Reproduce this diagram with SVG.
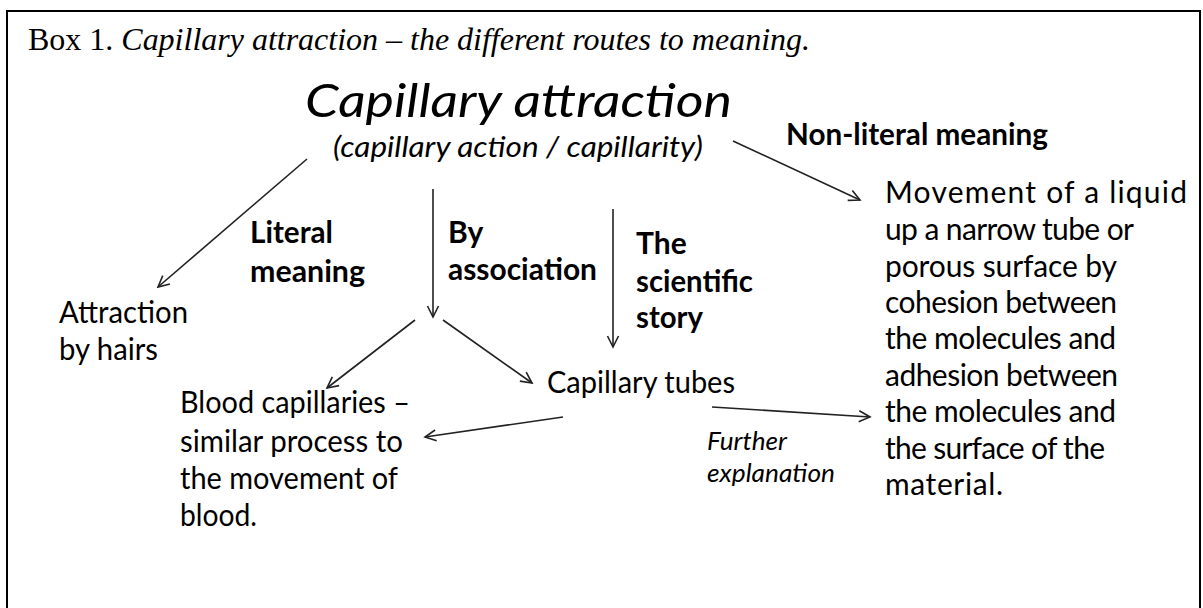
<svg xmlns="http://www.w3.org/2000/svg" width="1203" height="608" viewBox="0 0 1203 608">
  <style>
    .cap { font-family: Lato, "Open Sans", sans-serif; fill: #000; }
    .body { font-size: 30px; }
    .bold { font-size: 30px; font-weight: bold; }
    .ital { font-style: italic; }
    .serif { font-family: "Liberation Serif", serif; font-size: 32px; fill: #000; }
    .conn { stroke: #222; stroke-width: 1.6; fill: none; marker-end: url(#head); }
  </style>
  <defs>
    <marker id="head" markerUnits="userSpaceOnUse" markerWidth="14" markerHeight="14" refX="12" refY="6.5" orient="auto" viewBox="0 0 14 13">
      <path d="M1,1 L12,6.5 L1,12" fill="none" stroke="#222" stroke-width="1.6"/>
    </marker>
  </defs>

  <rect x="0" y="0" width="1203" height="608" fill="#fff"/>
  <!-- outer frame, open at the bottom edge of the page -->
  <rect x="7" y="11" width="1193" height="620" fill="none" stroke="#000" stroke-width="2"/>

  <text class="serif" x="28" y="50" textLength="782" lengthAdjust="spacing">Box 1. <tspan font-style="italic">Capillary attraction – the different routes to meaning.</tspan></text>

  <g id="connectors">
    <line class="conn" x1="307" y1="159" x2="158" y2="287"/>
    <line class="conn" x1="433" y1="189" x2="433" y2="317"/>
    <line class="conn" x1="613" y1="209" x2="613" y2="347"/>
    <line class="conn" x1="733" y1="141" x2="860" y2="200"/>
    <line class="conn" x1="415" y1="320" x2="327" y2="388"/>
    <line class="conn" x1="443" y1="320" x2="532" y2="383"/>
    <line class="conn" x1="563" y1="417" x2="425" y2="437"/>
    <line class="conn" x1="712" y1="407" x2="870" y2="417"/>
  </g>

  <g id="root">
    <text class="cap ital" x="305" y="117" font-size="47" textLength="427" lengthAdjust="spacingAndGlyphs">Capillary attraction</text>
    <text class="cap ital" x="333" y="157" font-size="29" textLength="370" lengthAdjust="spacingAndGlyphs">(capillary action / capillarity)</text>
  </g>

  <g id="label-literal">
    <text class="cap bold" x="250" y="243" textLength="83" lengthAdjust="spacingAndGlyphs">Literal</text>
    <text class="cap bold" x="250" y="282" textLength="115" lengthAdjust="spacingAndGlyphs">meaning</text>
  </g>
  <g id="label-association">
    <text class="cap bold" x="448" y="243">By</text>
    <text class="cap bold" x="448" y="280" textLength="149" lengthAdjust="spacingAndGlyphs">association</text>
  </g>
  <g id="label-scientific">
    <text class="cap bold" x="636" y="254">The</text>
    <text class="cap bold" x="636" y="292" textLength="117" lengthAdjust="spacingAndGlyphs">scientific</text>
    <text class="cap bold" x="636" y="328" textLength="67" lengthAdjust="spacingAndGlyphs">story</text>
  </g>
  <g id="label-nonliteral">
    <text class="cap bold" x="786" y="145" textLength="262" lengthAdjust="spacingAndGlyphs">Non-literal meaning</text>
  </g>

  <g id="hairs">
    <text class="cap body" x="59" y="323" textLength="129" lengthAdjust="spacingAndGlyphs">Attraction</text>
    <text class="cap body" x="59" y="360" textLength="99" lengthAdjust="spacingAndGlyphs">by hairs</text>
  </g>

  <g id="tubes">
    <text class="cap body" x="547" y="393" textLength="188" lengthAdjust="spacingAndGlyphs">Capillary tubes</text>
  </g>

  <g id="blood">
    <text class="cap body" x="180" y="413" textLength="230" lengthAdjust="spacingAndGlyphs">Blood capillaries –</text>
    <text class="cap body" x="180" y="452" textLength="223" lengthAdjust="spacingAndGlyphs">similar process to</text>
    <text class="cap body" x="180" y="489" textLength="218" lengthAdjust="spacingAndGlyphs">the movement of</text>
    <text class="cap body" x="180" y="526" textLength="77" lengthAdjust="spacingAndGlyphs">blood.</text>
  </g>

  <g id="label-further">
    <text class="cap ital" x="707" y="450" font-size="25" textLength="80" lengthAdjust="spacingAndGlyphs">Further</text>
    <text class="cap ital" x="707" y="482" font-size="25" textLength="128" lengthAdjust="spacingAndGlyphs">explanation</text>
  </g>

  <g id="definition">
    <text class="cap body" x="885" y="203" textLength="302" lengthAdjust="spacing">Movement of a liquid</text>
    <text class="cap body" x="885" y="240" textLength="249" lengthAdjust="spacing">up a narrow tube or</text>
    <text class="cap body" x="885" y="277" textLength="232" lengthAdjust="spacing">porous surface by</text>
    <text class="cap body" x="885" y="313" textLength="232" lengthAdjust="spacing">cohesion between</text>
    <text class="cap body" x="885" y="349" textLength="231" lengthAdjust="spacing">the molecules and</text>
    <text class="cap body" x="885" y="386" textLength="233" lengthAdjust="spacing">adhesion between</text>
    <text class="cap body" x="885" y="422" textLength="231" lengthAdjust="spacing">the molecules and</text>
    <text class="cap body" x="885" y="459" textLength="220" lengthAdjust="spacing">the surface of the</text>
    <text class="cap body" x="885" y="495" textLength="118" lengthAdjust="spacing">material.</text>
  </g>
</svg>
